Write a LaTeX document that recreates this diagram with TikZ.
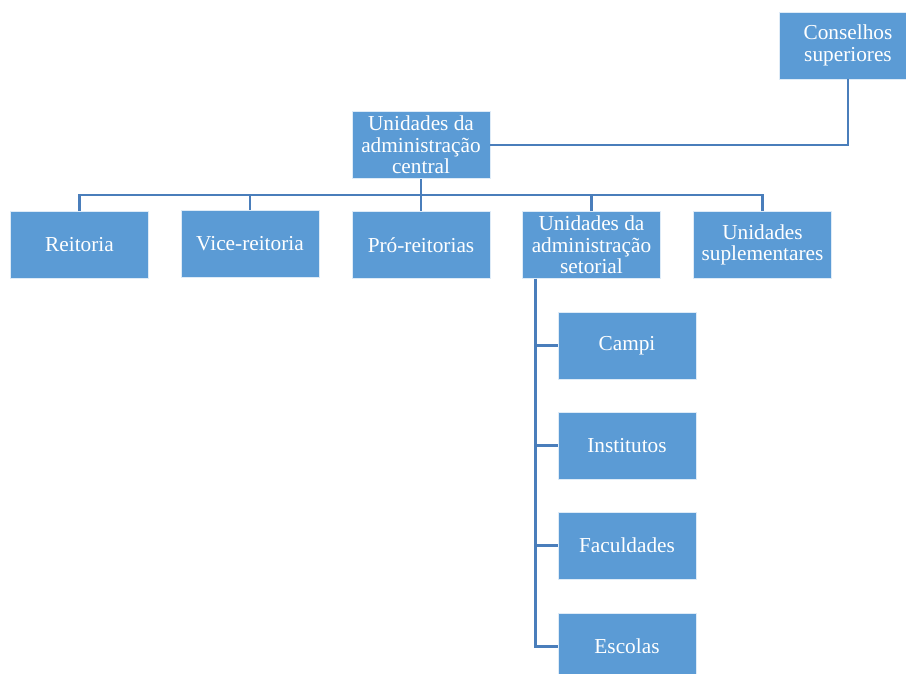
\documentclass[tikz,border=0pt]{standalone}
\usepackage{fontspec}
\setmainfont{Liberation Serif}
\definecolor{boxblue}{HTML}{5B9BD5}
\definecolor{linkblue}{HTML}{4A7EBB}
\begin{document}
\begin{tikzpicture}[x=1pt,y=-1pt,
  unit/.style={fill=boxblue, draw=white!80!boxblue, line width=0.6pt,
    minimum width=138pt, minimum height=67pt, inner sep=2pt,
    text=white, align=center, font=\fontsize{21.3}{21.5}\selectfont},
  link/.style={draw=linkblue, line width=2.8pt}]
\useasboundingbox (0,0) rectangle (906,673);
\begin{scope}
\clip (0,0) rectangle (906,673);
% top level
\node[unit] (cons) at (848,45.5) {Conselhos\\superiores};
\node[unit] (cent) at (421,145) {Unidades da\\administração\\central};
% second row
\node[unit] (rei) at (79.5,245) {Reitoria};
\node[unit] (vice) at (250,244) {Vice-reitoria};
\node[unit] (pro) at (421,245) {Pró-reitorias};
\node[unit] (set) at (591.5,245) {Unidades da\\administração\\setorial};
\node[unit] (sup) at (762.5,245) {Unidades\\suplementares};
% sectoral units
\node[unit] (campi) at (627,345.5) {Campi};
\node[unit] (inst) at (627,445.5) {Institutos};
\node[unit] (fac) at (627,545.5) {Faculdades};
\node[unit] (esc) at (627,646.5) {Escolas};
% connectors
\coordinate (bus) at (421,195);
\draw[link] (cons.south) |- (cent.east);
\draw[link] (cent.south) -- (pro.north);
\foreach \n in {rei,vice,set,sup}
  \draw[link] (\n.north) |- (bus);
\coordinate (spine) at ([xshift=-56pt]set.south);
\foreach \n in {campi,inst,fac,esc}
  \draw[link] (spine) |- (\n.west);
\end{scope}
\end{tikzpicture}
\end{document}
